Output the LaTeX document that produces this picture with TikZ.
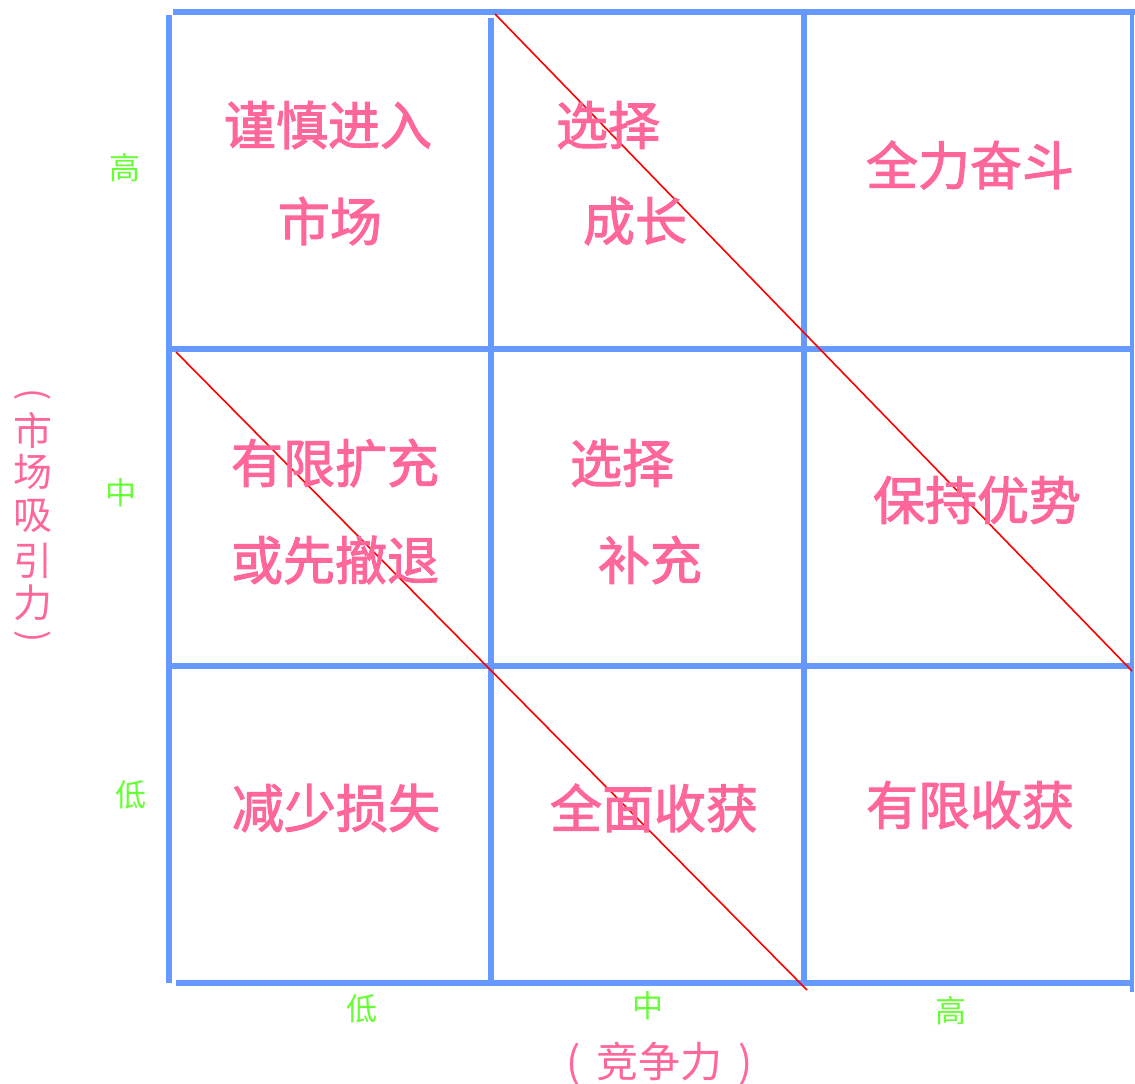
\documentclass[tikz,border=0pt]{standalone}
\usepackage{fontspec}
\newfontfamily\cjk{Noto Sans CJK SC}
\newfontfamily\cjkm{Noto Sans CJK SC}[FakeBold=2]
\definecolor{gridblue}{HTML}{6699FF}
\definecolor{pinktxt}{HTML}{FF6699}
\definecolor{greentxt}{HTML}{66FF33}
\tikzset{
  gridline/.style={draw=gridblue,line width=6pt},
  diag/.style={draw=red,line width=1.6pt},
  cell/.style={text=pinktxt,font=\cjkm\fontsize{52}{56}\selectfont,inner sep=0pt,anchor=center},
  tick/.style={text=greentxt,font=\cjk\fontsize{31}{34}\selectfont,inner sep=0pt,anchor=center},
  axis/.style={text=pinktxt,font=\cjk\fontsize{39}{42}\selectfont,inner sep=0pt,anchor=center},
}
\begin{document}
\begin{tikzpicture}[x=1pt,y=-1pt]
\useasboundingbox (0,0) rectangle (1135,1084);
% grid
\draw[gridline] (173,12) -- (1135,12);
\draw[gridline] (169,15) -- (169,983);
\draw[gridline] (491,18) -- (491,985);
\draw[gridline] (804,12) -- (804,983);
\draw[gridline,line width=4.5pt] (1132,15) -- (1132,992);
\draw[gridline] (170,349) -- (1132,349);
\draw[gridline] (172,666) -- (1132,666);
\draw[gridline] (176,983) -- (1132,983);
% diagonals
\coordinate (d1s) at (495,14);
\coordinate (d1e) at (1132,671);
\coordinate (d2s) at (176,352);
\coordinate (d2e) at (807,990);
\draw[diag] (d1s) -- (d1e);
\draw[diag] (d2s) -- (d2e);
% cell texts
\node[cell] (a1) at (328,125) {谨慎进入};
\node[cell] (a2) at (330,221) {市场};
\node[cell] (b1) at (608,125) {选择};
\node[cell] (b2) at (635,221) {成长};
\node[cell] (c1) at (970,165) {全力奋斗};
\node[cell] (d1) at (335,463) {有限扩充};
\node[cell] (d2) at (335,560) {或先撤退};
\node[cell] (e1) at (622,463) {选择};
\node[cell] (e2) at (650,560) {补充};
\node[cell] (f1) at (977,500) {保持优势};
\node[cell] (g1) at (336,808) {减少损失};
\node[cell] (h1) at (654,808) {全面收获};
\node[cell] (i1) at (970,805) {有限收获};
% ticks
\node[tick] (yh) at (125,168) {高};
\node[tick] (ym) at (121,493) {中};
\node[tick] (yl) at (131,795) {低};
\node[tick] (xl) at (362,1009) {低};
\node[tick] (xm) at (648,1006) {中};
\node[tick] (xh) at (951,1011) {高};
% vertical axis label
\node[axis,rotate=-90,font=\cjk\fontsize{36}{40}\selectfont] (yp1) at (33,395) {(};
\node[axis] (y1) at (33,430) {市};
\node[axis] (y2) at (33,472) {场};
\node[axis] (y3) at (33,516) {吸};
\node[axis] (y4) at (33,561) {引};
\node[axis] (y5) at (33,603) {力};
\node[axis,rotate=-90,font=\cjk\fontsize{36}{40}\selectfont] (yp2) at (33,637) {)};
% horizontal axis label
\node[axis,font=\cjk\fontsize{42}{46}\selectfont] (xlab) at (660,1064) {(\hspace{16pt}竞争力\hspace{16pt})};
\end{tikzpicture}
\end{document}
